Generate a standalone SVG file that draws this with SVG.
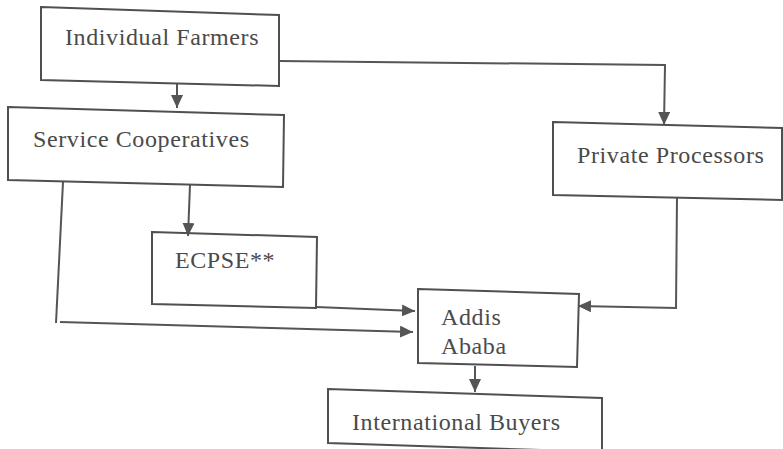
<svg xmlns="http://www.w3.org/2000/svg" width="783" height="449" viewBox="0 0 783 449">
<style>
.box{fill:none;stroke:#505050;stroke-width:2}
.lbl{font-family:"Liberation Serif","Times New Roman",serif;font-size:24px;letter-spacing:0.6px;fill:#4a4a4a}
.con{fill:none;stroke:#555;stroke-width:2}
</style>
<defs>
<marker id="ah" markerUnits="userSpaceOnUse" markerWidth="14" markerHeight="12" refX="13" refY="6" orient="auto">
<path d="M0,0 L13,6 L0,12 Z" fill="#555"/>
</marker>
</defs>
<rect width="783" height="449" fill="#fff"/>
<g id="connectors">
<path class="con" d="M177,84 L177,108" marker-end="url(#ah)"/>
<path class="con" d="M279,61 L665,65 L664,125" marker-end="url(#ah)"/>
<path class="con" d="M190,185 L188,236" marker-end="url(#ah)"/>
<path class="con" d="M63,182 L56,323"/>
<path class="con" d="M60,322 L413,332" marker-end="url(#ah)"/>
<path class="con" d="M316,307 L415,311" marker-end="url(#ah)"/>
<path class="con" d="M677,197 L676,308 L578,306" marker-end="url(#ah)"/>
<path class="con" d="M475,366 L475,392" marker-end="url(#ah)"/>
</g>
<g id="individual-farmers">
<polygon class="box" points="41,7 279,15 279,86 41,80"/>
<text class="lbl" x="65" y="45">Individual Farmers</text>
</g>
<g id="service-cooperatives">
<polygon class="box" points="8,107 284,115 283,187 8,180"/>
<text class="lbl" x="33" y="147">Service Cooperatives</text>
</g>
<g id="private-processors">
<polygon class="box" points="553,122 782,128 782,200 553,195"/>
<text class="lbl" x="577" y="163">Private Processors</text>
</g>
<g id="ecpse">
<polygon class="box" points="152,232 317,237 316,308 152,304"/>
<text class="lbl" x="175" y="268">ECPSE**</text>
</g>
<g id="addis-ababa">
<polygon class="box" points="418,289 579,294 577,367 418,363"/>
<text class="lbl" x="441" y="325">Addis</text>
<text class="lbl" x="441" y="354">Ababa</text>
</g>
<g id="international-buyers">
<polygon class="box" points="328,389 602,398 602,452 328,443"/>
<text class="lbl" x="352" y="430">International Buyers</text>
</g>
</svg>
